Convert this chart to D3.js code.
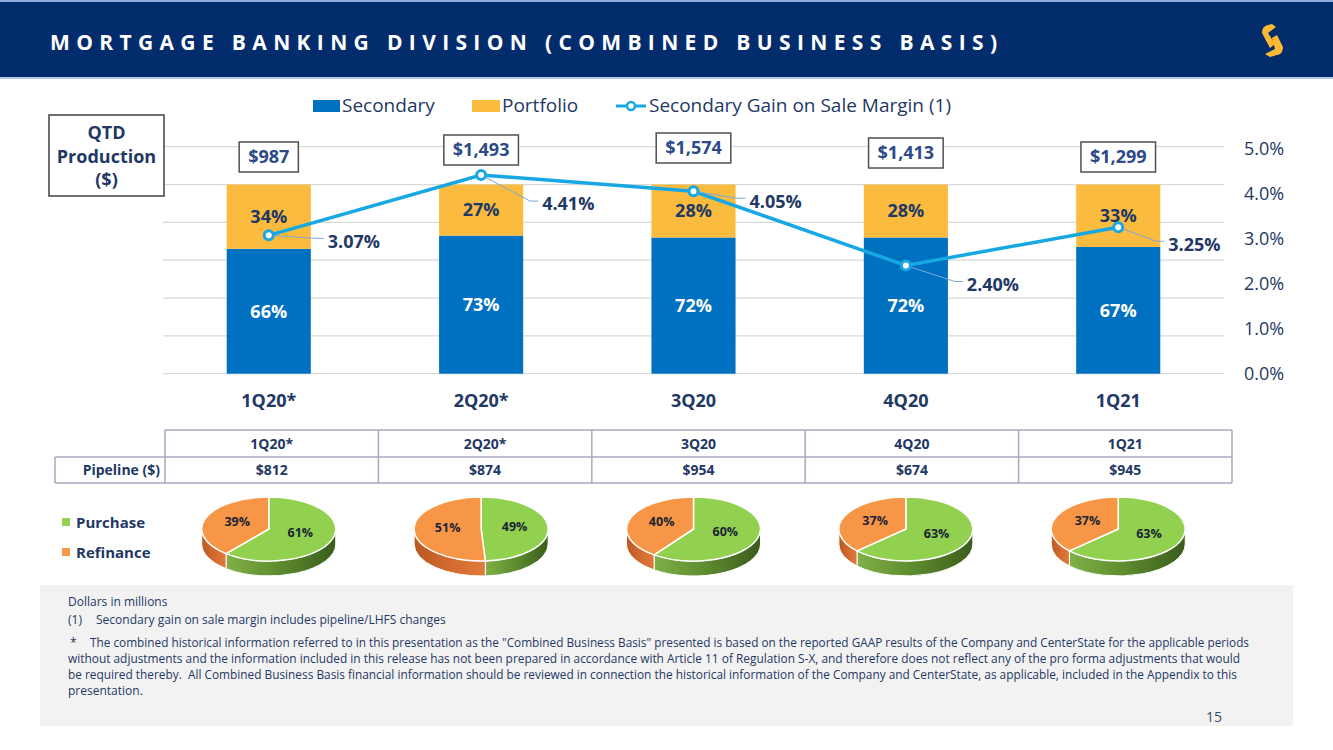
<!DOCTYPE html>
<html>
<head>
<meta charset="utf-8">
<script src="https://cdn.jsdelivr.net/npm/d3@7"></script>
<style>
body{margin:0;background:#fff;}
text{font-family:"Open Sans","Noto Sans",sans-serif;}
</style>
</head>
<body>
<script>
// dane z wykresu
var quarters=["1Q20*","2Q20*","3Q20","4Q20","1Q21"];
var secondaryShare=[66,73,72,72,67];
var portfolioShare=[34,27,28,28,33];
var gainOnSale=[3.07,4.41,4.05,2.40,3.25];
var production=[987,1493,1574,1413,1299];
var pipeline=[812,874,954,674,945];
var purchase=[61,49,60,63,63];
var refinance=[39,51,40,37,37];
var marginTicks=[0,1,2,3,4,5];
var shareTicks=[0,20,40,60,80,100,120];

// tylko uklad (przesuniecia etykiet)
var gainLabelDx=[59,61,56,61,50];
var gainLabelDy=[6,29,10,19,17];
var productionBoxY=[157,150,148,153,157];

var navy="#1F3864", blue="#0070C0", gold="#FBBB3F", cyan="#17A8E3";

var svg=d3.select("body").append("svg")
	.attr("width",1333)
	.attr("height",750);

var defs=svg.append("defs");
function gradient(id,stops)
{
	var g=defs.append("linearGradient").attr("id",id)
		.attr("x1",0).attr("y1",0).attr("x2",1).attr("y2",0);
	for(var i=0;i<stops.length;i++)
		g.append("stop").attr("offset",(i/(stops.length-1)*100)+"%").attr("stop-color",stops[i]);
}
gradient("sideGreen",["#80B046","#5C8A2E","#3A5C1C"]);
gradient("sideOrange",["#B9581F","#D36A30","#E07A3C"]);

//naglowek
svg.append("rect").attr("x",0).attr("y",0).attr("width",1333).attr("height",78).style("fill","#032C6D");
svg.append("rect").attr("x",0).attr("y",0).attr("width",1333).attr("height",2).style("fill","#8FAADC");
svg.append("rect").attr("x",0).attr("y",77).attr("width",1333).attr("height",2).style("fill","#B4C7E7");
svg.append("text").attr("x",50).attr("y",50)
	.attr("textLength",947).attr("lengthAdjust","spacing")
	.style("font-size","21px").style("font-weight","700").style("fill","white")
	.text("MORTGAGE BANKING DIVISION (COMBINED BUSINESS BASIS)");
//logo
svg.append("path").attr("d","M1262,33 Q1262,26 1268,25 L1272,24 L1276,27 L1268,33 L1275,44 L1270,48 Z").style("fill","#FDB933");
svg.append("path").attr("d","M1272,38 L1277,35 L1283,47 Q1283,54 1277,55 L1270,57 L1265,54 L1275,49 Z").style("fill","#FDB933");

//skale
var x=d3.scaleBand().domain(quarters).range([163,1224]).paddingInner(0.604).paddingOuter(0.3);
var yShare=d3.scaleLinear().domain([0,120]).range([373.7,146.7]);
var yMargin=d3.scaleLinear().domain([0,5]).range([373.5,148.5]);

//linie siatki
svg.append("g").selectAll("line").data(shareTicks).enter().append("line")
	.attr("x1",163).attr("x2",1224)
	.attr("y1",function(d){return yShare(d);})
	.attr("y2",function(d){return yShare(d);})
	.style("stroke","#D9D9D9").style("stroke-width",1.2);

//legenda
svg.append("rect").attr("x",313).attr("y",100).attr("width",27).attr("height",12).style("fill",blue);
svg.append("text").attr("x",342).attr("y",112).style("font-size","19px").style("fill",navy).text("Secondary");
svg.append("rect").attr("x",472).attr("y",100).attr("width",28).attr("height",12).style("fill",gold);
svg.append("text").attr("x",502).attr("y",112).style("font-size","19px").style("fill",navy).text("Portfolio");
svg.append("line").attr("x1",616).attr("x2",646).attr("y1",106).attr("y2",106).style("stroke",cyan).style("stroke-width",3);
svg.append("circle").attr("cx",631).attr("cy",106).attr("r",4).style("fill","white").style("stroke",cyan).style("stroke-width",2.5);
svg.append("text").attr("x",649).attr("y",112).style("font-size","19px").style("fill",navy).text("Secondary Gain on Sale Margin (1)");

//ramka QTD
svg.append("rect").attr("x",49).attr("y",115).attr("width",115).attr("height",81)
	.style("fill","white").style("stroke","#404040").style("stroke-width",1.5);
var qtd=["QTD","Production","($)"];
for(var i=0;i<qtd.length;i++)
	svg.append("text").attr("x",106.5).attr("y",139+i*23.5).attr("text-anchor","middle")
		.style("font-size","18px").style("font-weight","700").style("fill",navy).text(qtd[i]);

//slupki
var rows=quarters.map(function(q,i){return {q:q,secondary:secondaryShare[i],portfolio:portfolioShare[i]};});
var stacked=d3.stack().keys(["secondary","portfolio"])(rows);
var barColors={secondary:blue,portfolio:gold};
var labelColors={secondary:"white",portfolio:navy};
stacked.forEach(function(seria)
{
	var g=svg.append("g");
	g.selectAll("rect").data(seria).enter().append("rect")
		.attr("x",function(d){return x(d.data.q);})
		.attr("width",x.bandwidth())
		.attr("y",function(d){return yShare(d[1]);})
		.attr("height",function(d){return yShare(d[0])-yShare(d[1]);})
		.style("fill",barColors[seria.key]);
	g.selectAll("text").data(seria).enter().append("text")
		.attr("x",function(d){return x(d.data.q)+x.bandwidth()/2;})
		.attr("y",function(d){return (yShare(d[0])+yShare(d[1]))/2;})
		.attr("dy","0.35em").attr("text-anchor","middle")
		.style("font-size","18px").style("font-weight","700")
		.style("fill",labelColors[seria.key])
		.text(function(d){return d.data[seria.key]+"%";});
});

//os prawa
var axisR=svg.append("g").attr("transform","translate(1244,0)")
	.call(d3.axisRight(yMargin).tickValues(marginTicks).tickSize(0).tickPadding(0)
		.tickFormat(function(d){return d.toFixed(1)+"%";}));
axisR.select(".domain").remove();
axisR.selectAll("text").style("font-size","18px").style("fill",navy).style("font-family","'Open Sans',sans-serif");

//os dolna
var axisB=svg.append("g").attr("transform","translate(0,373.7)")
	.call(d3.axisBottom(x).tickSize(0).tickPadding(21));
axisB.select(".domain").remove();
axisB.selectAll("text").style("font-size","18px").style("font-weight","700").style("fill",navy).style("font-family","'Open Sans',sans-serif");

//linia marzy
var cx=function(i){return x(quarters[i])+x.bandwidth()/2;};
var line=d3.line().x(function(d,i){return cx(i);}).y(function(d){return yMargin(d);});
svg.append("path").datum(gainOnSale).attr("d",line)
	.style("fill","none").style("stroke",cyan).style("stroke-width",3.5);
for(var i=0;i<gainOnSale.length;i++)
{
	var px=cx(i), py=yMargin(gainOnSale[i]);
	var lx=px+gainLabelDx[i], ly=py+gainLabelDy[i];
	svg.append("polyline")
		.attr("points",px+","+py+" "+(lx-12)+","+(ly-3)+" "+(lx-4)+","+(ly-3))
		.style("fill","none").style("stroke","#7FA7D6").style("stroke-width",1);
	svg.append("circle").attr("cx",px).attr("cy",py).attr("r",4.5)
		.style("fill","white").style("stroke",cyan).style("stroke-width",3);
	svg.append("text").attr("x",lx).attr("y",ly).attr("dy","0.35em")
		.style("font-size","18px").style("font-weight","700").style("fill",navy)
		.text(gainOnSale[i].toFixed(2)+"%");
}

//produkcja w ramkach
for(var i=0;i<production.length;i++)
{
	var g=svg.append("g");
	var t=g.append("text").attr("x",cx(i)).attr("y",productionBoxY[i]).attr("dy","0.35em")
		.attr("text-anchor","middle")
		.style("font-size","18px").style("font-weight","700").style("fill","#2B4A87")
		.text("$"+d3.format(",")(production[i]));
	var w=t.node().getComputedTextLength()+18;
	g.insert("rect","text").attr("x",cx(i)-w/2).attr("y",productionBoxY[i]-15)
		.attr("width",w).attr("height",30)
		.style("fill","white").style("stroke","#505050").style("stroke-width",1.5);
}

//tabela pipeline
var tx=d3.scaleBand().domain(quarters).range([165,1232]);
var tb=svg.append("g").style("stroke","#A9A9C2").style("stroke-width",1.5);
tb.append("line").attr("x1",165).attr("x2",1232).attr("y1",430).attr("y2",430);
tb.append("line").attr("x1",55).attr("x2",1232).attr("y1",457).attr("y2",457);
tb.append("line").attr("x1",55).attr("x2",1232).attr("y1",483).attr("y2",483);
tb.append("line").attr("x1",55).attr("x2",55).attr("y1",457).attr("y2",483);
tb.selectAll(".v").data(quarters.concat(["end"])).enter().append("line")
	.attr("x1",function(d,i){return 165+i*tx.step();})
	.attr("x2",function(d,i){return 165+i*tx.step();})
	.attr("y1",430).attr("y2",483);
svg.append("g").selectAll("text").data(quarters).enter().append("text")
	.attr("x",function(d){return tx(d)+tx.bandwidth()/2;}).attr("y",444).attr("dy","0.35em")
	.attr("text-anchor","middle").style("font-size","14px").style("font-weight","700").style("fill",navy)
	.text(function(d){return d;});
svg.append("g").selectAll("text").data(pipeline).enter().append("text")
	.attr("x",function(d,i){return tx(quarters[i])+tx.bandwidth()/2;}).attr("y",470).attr("dy","0.35em")
	.attr("text-anchor","middle").style("font-size","14px").style("font-weight","700").style("fill",navy)
	.text(function(d){return "$"+d;});
svg.append("text").attr("x",160).attr("y",470).attr("dy","0.35em").attr("text-anchor","end")
	.style("font-size","14px").style("font-weight","700").style("fill",navy).text("Pipeline ($)");

//legenda kolowych
svg.append("rect").attr("x",62).attr("y",518).attr("width",8).attr("height",8).style("fill","#92D050");
svg.append("text").attr("x",76).attr("y",528).style("font-size","15px").style("font-weight","700").style("fill",navy).text("Purchase");
svg.append("rect").attr("x",62).attr("y",548).attr("width",8).attr("height",8).style("fill","#F79646");
svg.append("text").attr("x",76).attr("y",558).style("font-size","15px").style("font-weight","700").style("fill",navy).text("Refinance");

//wykresy kolowe 3D
var pie=d3.pie().sort(null).value(function(d){return d.v;});
var rx=67, ry=32, depth=15, pcy=529;
var topColors=["#92D050","#F79646"], sideFill=["url(#sideGreen)","url(#sideOrange)"];
function pt(c,a,dy){return [c+rx*Math.sin(a), pcy-ry*Math.cos(a)+(dy||0)];}
for(var k=0;k<quarters.length;k++)
{
	var c=cx(k);
	var arcs=pie([{v:purchase[k]},{v:refinance[k]}]);
	var g=svg.append("g");
	arcs.forEach(function(a,j)
	{
		var s=Math.max(a.startAngle,Math.PI/2), e=Math.min(a.endAngle,Math.PI*1.5);
		if(e<=s) return;
		var p1=pt(c,s), p2=pt(c,e), p3=pt(c,e,depth), p4=pt(c,s,depth);
		g.append("path")
			.attr("d","M"+p1+" A"+rx+","+ry+" 0 0 1 "+p2+" L"+p3+" A"+rx+","+ry+" 0 0 0 "+p4+" Z")
			.style("fill",sideFill[j]).style("stroke","white").style("stroke-width",1);
	});
	arcs.forEach(function(a,j)
	{
		var p1=pt(c,a.startAngle), p2=pt(c,a.endAngle);
		var large=(a.endAngle-a.startAngle)>Math.PI?1:0;
		g.append("path")
			.attr("d","M"+c+","+pcy+" L"+p1+" A"+rx+","+ry+" 0 "+large+" 1 "+p2+" Z")
			.style("fill",topColors[j]).style("stroke","white").style("stroke-width",1.5);
	});
	arcs.forEach(function(a)
	{
		var m=(a.startAngle+a.endAngle)/2;
		g.append("text").attr("x",c+rx*0.5*Math.sin(m)).attr("y",pcy-ry*0.5*Math.cos(m)-2)
			.attr("dy","0.35em").attr("text-anchor","middle")
			.style("font-size","12.5px").style("font-weight","700").style("fill","#1B2432")
			.text(a.data.v+"%");
	});
}

//przypisy
svg.append("rect").attr("x",40).attr("y",585).attr("width",1253).attr("height",141).style("fill","#F2F2F2");
var note=svg.append("g").style("font-size","12px").style("fill",navy).attr("xml:space","preserve");
note.append("text").attr("x",68).attr("y",606).text("Dollars in millions");
note.append("text").attr("x",68).attr("y",624).text("(1)");
note.append("text").attr("x",96).attr("y",624).text("Secondary gain on sale margin includes pipeline/LHFS changes");
note.append("text").attr("x",70).attr("y",647).text("*");
note.append("text").attr("x",90).attr("y",647).attr("textLength",1159).attr("lengthAdjust","spacingAndGlyphs")
	.text("The combined historical information referred to in this presentation as the \"Combined Business Basis\" presented is based on the reported GAAP results of the Company and CenterState for the applicable periods");
note.append("text").attr("x",68).attr("y",663).attr("textLength",1172).attr("lengthAdjust","spacingAndGlyphs")
	.text("without adjustments and the information included in this release has not been prepared in accordance with Article 11 of Regulation S-X, and therefore does not reflect any of the pro forma adjustments that would");
note.append("text").attr("x",68).attr("y",679).attr("textLength",1169).attr("lengthAdjust","spacingAndGlyphs")
	.text("be required thereby.\u00a0 All Combined Business Basis financial information should be reviewed in connection the historical information of the Company and CenterState, as applicable, included in the Appendix to this");
note.append("text").attr("x",68).attr("y",695).text("presentation.");
svg.append("text").attr("x",1222).attr("y",722).attr("text-anchor","end")
	.style("font-size","14px").style("fill","#3A4A6B").text("15");
</script>
</body>
</html>
